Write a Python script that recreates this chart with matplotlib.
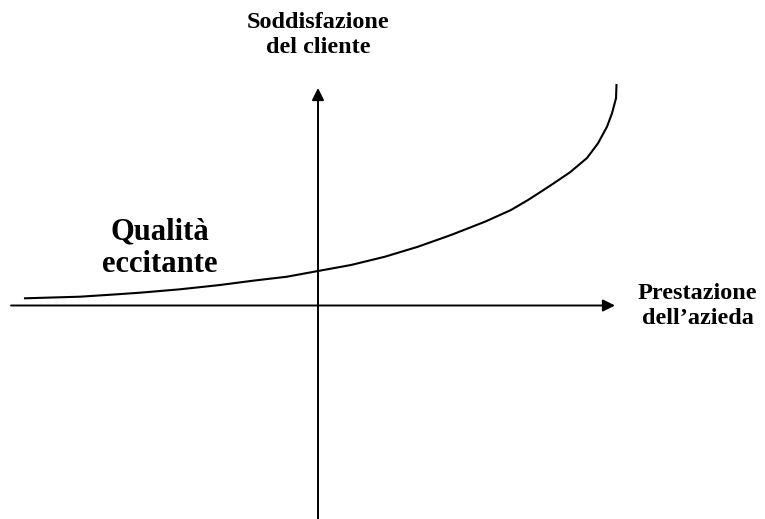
import numpy as np
import matplotlib.pyplot as plt

# curva "qualità eccitante" (coordinate rispetto all'origine degli assi)
curve_x = [-293, -238, -201, -178, -138, -98, -65, -31, 0, 33, 67, 100, 133,
           167, 193, 210, 222, 235, 252, 269, 280, 289, 294, 298, 298.5]
curve_y = [7.2, 8.8, 11.2, 12.8, 16.2, 20.5, 24.8, 28.8, 34.5, 40.5, 48.8, 58.8,
           70.5, 83.8, 95.5, 105.5, 113.2, 121.7, 133.2, 147.5, 162.2, 178.8,
           192.2, 207.2, 220.5]

label_y = "Soddisfazione\ndel cliente"
label_x = "Prestazione\ndell\u2019azieda"
label_curve = "Qualità\neccitante"

fig = plt.figure(figsize=(7.65, 5.19), dpi=100)
ax = fig.add_axes([0, 0, 1, 1])
ax.set_xlim(-318, 765 - 318)
ax.set_ylim(-519 + 305.5, 305.5)
ax.axis('off')

serif = ['Liberation Serif', 'DejaVu Serif']

# assi
arrow = dict(arrowstyle='-|>', color='black', lw=1.4, mutation_scale=18,
             shrinkA=0, shrinkB=0)
ax.annotate('', xy=(297, 0), xytext=(-307, 0), arrowprops=arrow)
ax.annotate('', xy=(0, 217.5), xytext=(0, -214), arrowprops=arrow)

ax.plot(curve_x, curve_y, color='black', lw=1.5, solid_joinstyle='round')

ax.text(0, 270.5, label_y, ha='center', va='center', fontsize=17.5,
        fontweight='bold', family=serif, linespacing=1.25)
ax.text(379.5, -0.5, label_x, ha='center', va='center', fontsize=17.5,
        fontweight='bold', family=serif, linespacing=1.25)
ax.text(-158, 57, label_curve, ha='center', va='center', fontsize=22,
        fontweight='bold', family=serif, linespacing=1.17)

fig.savefig('out.png', dpi=100)
